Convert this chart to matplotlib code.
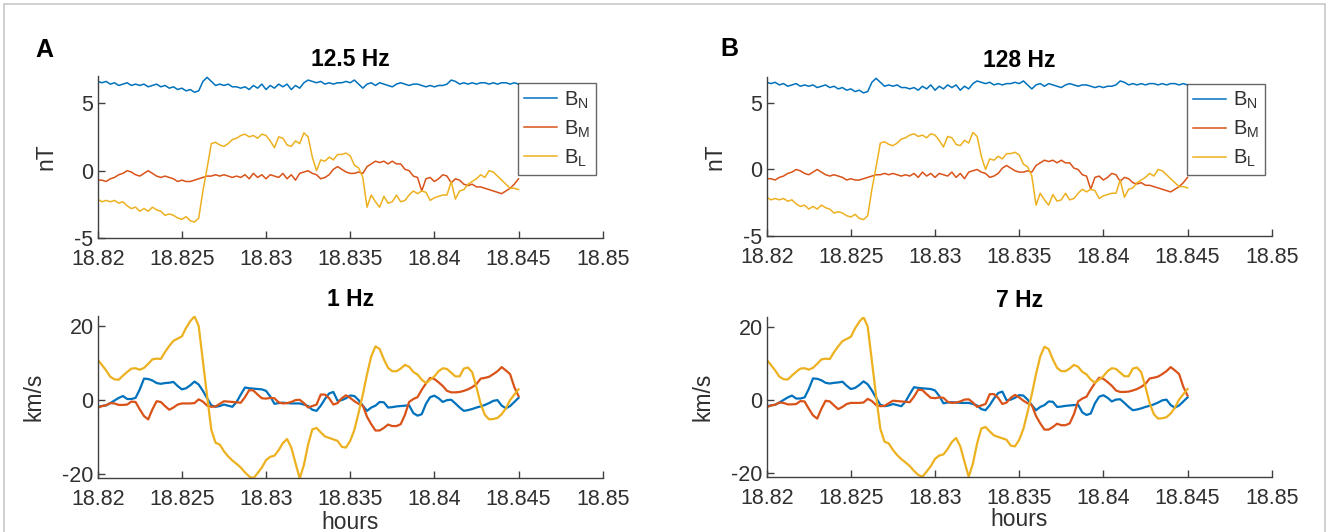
import numpy as np
import matplotlib
matplotlib.use("Agg")
import matplotlib.pyplot as plt
from matplotlib.patches import Rectangle

# ---------------- data ----------------
# regular sampling grid (hours)
time_hours = np.linspace(18.82, 18.845, 101)

# magnetic field (nT) -- top panels
BN_field = [6.6, 6.5, 6.6, 6.4, 6.5, 6.3, 6.4, 6.5, 6.3, 6.4,
            6.3, 6.4, 6.2, 6.3, 6.4, 6.2, 6.3, 6.1, 6.2, 6.0,
            6.1, 5.9, 6.0, 5.8, 5.9, 6.6, 6.9, 6.6, 6.3, 6.4,
            6.3, 6.4, 6.2, 6.2, 6.1, 6.2, 6.0, 6.3, 6.1, 6.4,
            6.0, 6.3, 6.1, 6.4, 6.2, 6.4, 6.0, 6.3, 6.1, 6.5,
            6.7, 6.6, 6.5, 6.6, 6.4, 6.5, 6.4, 6.5, 6.5, 6.6,
            6.5, 6.7, 6.4, 6.1, 6.4, 6.5, 6.3, 6.5, 6.4, 6.3,
            6.2, 6.4, 6.5, 6.4, 6.3, 6.4, 6.4, 6.3, 6.2, 6.3,
            6.2, 6.3, 6.3, 6.4, 6.7, 6.6, 6.4, 6.5, 6.4, 6.5,
            6.4, 6.5, 6.5, 6.4, 6.5, 6.4, 6.5, 6.5, 6.4, 6.5, 6.4]
BM_field = [-0.7, -0.7, -0.8, -0.6, -0.5, -0.3, -0.2, 0.0, -0.1, -0.3,
            -0.4, -0.2, 0.0, -0.2, -0.4, -0.5, -0.4, -0.5, -0.6, -0.8,
            -0.7, -0.8, -0.8, -0.7, -0.6, -0.5, -0.4, -0.4, -0.3, -0.4,
            -0.3, -0.4, -0.5, -0.4, -0.5, -0.3, -0.6, -0.2, -0.5, -0.3,
            -0.6, -0.3, -0.4, -0.5, -0.2, -0.6, -0.3, -0.7, -0.2, -0.1,
            0.0, -0.2, -0.3, -0.6, -0.5, -0.3, 0.1, 0.3, 0.1, -0.1,
            -0.2, -0.2, -0.1, -0.2, 0.3, 0.5, 0.7, 0.6, 0.7, 0.5,
            0.7, 0.5, 0.5, 0.1, 0.0, -0.4, -0.5, -1.5, -0.6, -0.5,
            -0.8, -0.6, -0.3, -0.4, -0.9, -0.6, -0.7, -1.0, -1.1, -1.0,
            -1.2, -1.2, -1.3, -1.4, -1.5, -1.6, -1.7, -1.5, -1.3, -1.0, -0.6]
BL_field = [-2.1, -2.3, -2.2, -2.3, -2.2, -2.4, -2.3, -2.6, -2.8, -2.7,
            -3.0, -2.8, -3.0, -2.7, -2.9, -3.0, -3.3, -3.2, -3.3, -3.5,
            -3.6, -3.4, -3.7, -3.8, -3.5, -1.5, 0.2, 2.0, 2.1, 1.9,
            1.8, 2.0, 2.3, 2.4, 2.6, 2.7, 2.5, 2.6, 2.4, 2.7,
            2.6, 2.2, 1.7, 2.5, 2.4, 1.9, 1.8, 2.2, 2.0, 2.8,
            2.5, 1.0, 0.0, 0.8, 0.7, 1.0, 0.8, 1.2, 1.2, 1.3,
            1.1, 0.4, 0.2, -0.5, -2.7, -1.8, -2.3, -2.7, -1.9, -2.4,
            -2.3, -1.8, -2.3, -2.2, -1.8, -1.5, -1.7, -1.5, -1.6, -2.2,
            -2.0, -1.9, -1.8, -1.8, -0.8, -2.1, -1.5, -1.4, -1.0, -0.8,
            -0.6, -0.3, -0.5, 0.0, -0.1, -0.4, -0.7, -1.0, -1.3, -1.3, -1.4]

# velocity (km/s) -- bottom panels
VN_vel = [-1.8, -1.6, -1.4, -0.8, -0.1, 0.6, 1.1, 0.3, 0.3, 0.6,
          2.9, 5.8, 5.7, 5.3, 4.6, 4.4, 4.6, 4.7, 4.9, 3.8,
          2.9, 3.2, 4.0, 5.0, 4.2, 2.5, 0.5, -1.4, -1.8, -1.6,
          -1.2, -1.5, -1.8, -0.5, 1.5, 3.4, 3.2, 3.1, 3.0, 2.9,
          2.5, 1.0, -1.0, -0.8, -0.7, -0.8, -0.9, -0.9, -0.9, -1.2,
          -1.6, -2.6, -2.9, -1.5, 0.3, 1.8, 2.2, -0.2, 0.0, 0.5,
          1.25, 1.1, 0.0, -1.5, -2.9, -2.0, -1.5, -0.5, -0.6, -2.0,
          -1.9, -1.7, -1.6, -1.5, -1.4, -3.5, -4.2, -3.8, -1.0, 0.8,
          1.2, 0.5, -0.5, 0.0, 0.1, -0.9, -2.0, -2.9, -2.7, -2.4,
          -2.0, -1.7, -1.3, -0.8, -0.2, 0.0, -1.5, -2.2, -1.6, -0.5, 0.6]
VM_vel = [-2.1, -1.6, -1.4, -0.8, -0.9, -1.3, -1.3, -1.2, -0.4, -0.5,
          -2.5, -4.3, -5.2, -2.5, -0.3, -0.5, -1.6, -2.6, -2.0, -1.2,
          -0.9, -0.9, -0.9, -0.8, 0.2, -0.4, -1.5, -1.8, -1.7, -1.0,
          -0.3, -0.4, -0.5, -0.6, -0.7, 0.8, 2.7, 2.6, 1.5, 0.5,
          0.4, 0.6, 0.5, -0.6, -0.9, -0.8, -0.5, 0.0, 0.1, -0.8,
          -2.0, -1.6, -1.2, 1.5, 1.5, 0.5, -1.2, -0.8, 0.5, 1.3,
          0.6, -0.3, -1.0, -1.5, -4.5, -6.5, -8.2, -8.2, -7.5, -6.6,
          -7.0, -7.0, -6.5, -4.0, -0.5, 0.3, 0.8, 2.8, 4.5, 6.0,
          5.7, 4.8, 3.8, 2.5, 2.1, 2.1, 2.2, 2.5, 2.9, 3.5,
          4.3, 5.8, 6.0, 6.3, 7.0, 7.8, 8.9, 8.0, 7.0, 3.5, 1.1]
VL_vel = [10.9, 9.5, 8.0, 6.3, 5.6, 5.5, 6.6, 7.6, 8.5, 8.6,
          8.2, 8.7, 9.8, 11.0, 11.2, 11.1, 13.0, 14.6, 16.0, 16.6,
          17.2, 19.5, 21.3, 22.6, 20.0, 10.5, 1.0, -8.0, -11.5, -12.0,
          -13.8, -15.2, -16.3, -17.2, -18.2, -19.5, -20.6, -21.1, -19.7, -18.2,
          -16.2, -15.3, -15.0, -13.5, -11.6, -10.5, -12.8, -17.0, -21.1, -17.5,
          -12.0, -7.9, -7.5, -8.7, -9.8, -10.2, -10.6, -11.0, -12.6, -12.8,
          -11.0, -8.0, -3.4, 1.5, 7.0, 11.8, 14.5, 13.8, 11.0, 8.7,
          7.8, 7.8, 8.5, 9.5, 9.0, 7.6, 6.9, 5.5, 4.6, 5.5,
          6.4, 7.8, 8.6, 8.4, 7.4, 6.4, 6.4, 8.5, 8.8, 7.5,
          3.5, -1.0, -4.0, -5.2, -5.1, -4.8, -3.8, -2.2, 0.0, 1.5, 2.9]

panel_letters = ["A", "B"]
top_titles = ["12.5 Hz", "128 Hz"]
bottom_titles = ["1 Hz", "7 Hz"]
series_labels = [r"B$_\mathrm{N}$", r"B$_\mathrm{M}$", r"B$_\mathrm{L}$"]
x_ticks = [18.82, 18.825, 18.83, 18.835, 18.84, 18.845, 18.85]
x_ticklabels = ["18.82", "18.825", "18.83", "18.835", "18.84", "18.845", "18.85"]
top_yticks = [-5, 0, 5]
top_yticklabels = ["-5", "0", "5"]
bottom_yticks = [-20, 0, 20]
bottom_yticklabels = ["-20", "0", "20"]

# ---------------- style ----------------
plt.rcParams["font.family"] = ["Liberation Sans", "DejaVu Sans"]
plt.rcParams["mathtext.fontset"] = "custom"
plt.rcParams["mathtext.rm"] = "Liberation Sans"
plt.rcParams["mathtext.it"] = "Liberation Sans:italic"
plt.rcParams["mathtext.bf"] = "Liberation Sans:bold"
plt.rcParams["axes.unicode_minus"] = False

C_BLUE = "#0072BD"
C_ORANGE = "#D95319"
C_YELLOW = "#EDB120"
colors = [C_BLUE, C_ORANGE, C_YELLOW]
TXT = "#303030"
AX = "#404040"

W, H = 1328, 532
fig = plt.figure(figsize=(W / 100, H / 100), dpi=100)


def px_axes(left, top, right, bottom):
    return fig.add_axes([left / W, 1 - bottom / H, (right - left) / W, (bottom - top) / H])


def style_axes(ax, yticks, yticklabels, ylim):
    ax.set_xlim(18.82, 18.85)
    ax.set_ylim(*ylim)
    ax.set_xticks(x_ticks)
    ax.set_xticklabels(x_ticklabels)
    ax.set_yticks(yticks)
    ax.set_yticklabels(yticklabels)
    for s in ["top", "right"]:
        ax.spines[s].set_visible(False)
    for s in ["left", "bottom"]:
        ax.spines[s].set_color(AX)
        ax.spines[s].set_linewidth(1.0)
    ax.tick_params(direction="in", length=5, width=1.0, color=AX,
                   labelcolor=TXT, labelsize=15.5)
    ax.tick_params(axis="x", pad=8)
    ax.tick_params(axis="y", pad=3)
    ax.set_facecolor("none")


top_boxes = [(97.7, 76, 602.7, 238.3), (766.7, 77, 1271.7, 235.5)]
bot_boxes = [(97.7, 316, 602.7, 478.3), (766.7, 316.7, 1271.7, 476.7)]
letter_pos = [(44, 50), (729, 49)]

top_series = [BN_field, BM_field, BL_field]
bot_series = [VN_vel, VM_vel, VL_vel]

for k in range(2):
    # --- top: magnetic field ---
    ax = px_axes(*top_boxes[k])
    for vals, c, lab in zip(top_series, colors, series_labels):
        ax.plot(time_hours, vals, color=c, lw=1.1, label=lab)
    style_axes(ax, top_yticks, top_yticklabels, (-5, 7))
    ax.set_ylabel("nT", fontsize=16.5, color=TXT)
    ax.yaxis.set_label_coords(-0.079, 0.5)
    ax.set_title(top_titles[k], fontsize=16.5, fontweight="bold", color="black", pad=7)
    leg = ax.legend(loc="upper left", bbox_to_anchor=(0.833, 0.955), fontsize=14.5,
                    frameon=True, fancybox=False, handlelength=1.6, handletextpad=0.35,
                    borderpad=0.3, labelspacing=0.38, borderaxespad=0)
    leg.get_frame().set_edgecolor(AX)
    leg.get_frame().set_linewidth(1.0)
    for tx in leg.get_texts():
        tx.set_color(TXT)

    # --- bottom: velocity ---
    ax2 = px_axes(*bot_boxes[k])
    for vals, c in zip(bot_series, colors):
        ax2.plot(time_hours, vals, color=c, lw=1.6)
    style_axes(ax2, bottom_yticks, bottom_yticklabels, (-21.1, 22.7))
    ax2.set_ylabel("km/s", fontsize=16.5, color=TXT)
    ax2.yaxis.set_label_coords(-0.103, 0.5)
    ax2.set_xlabel("hours", fontsize=16.5, color=TXT, va="center")
    ax2.xaxis.set_label_coords(0.5, -0.27)
    ax2.set_title(bottom_titles[k], fontsize=16.5, fontweight="bold", color="black", pad=7)

    # panel letter
    lx, ly = letter_pos[k]
    fig.text(lx / W, 1 - ly / H, panel_letters[k], fontsize=18, fontweight="bold",
             color="black", ha="center", va="center")

# outer frame
fig.add_artist(Rectangle((4 / W, -0.05), (1325 - 4) / W, 1 - 4 / H + 0.05,
                         transform=fig.transFigure, fill=False,
                         edgecolor="#c8c8c8", linewidth=1.2))

fig.savefig("out.png", dpi=100)
